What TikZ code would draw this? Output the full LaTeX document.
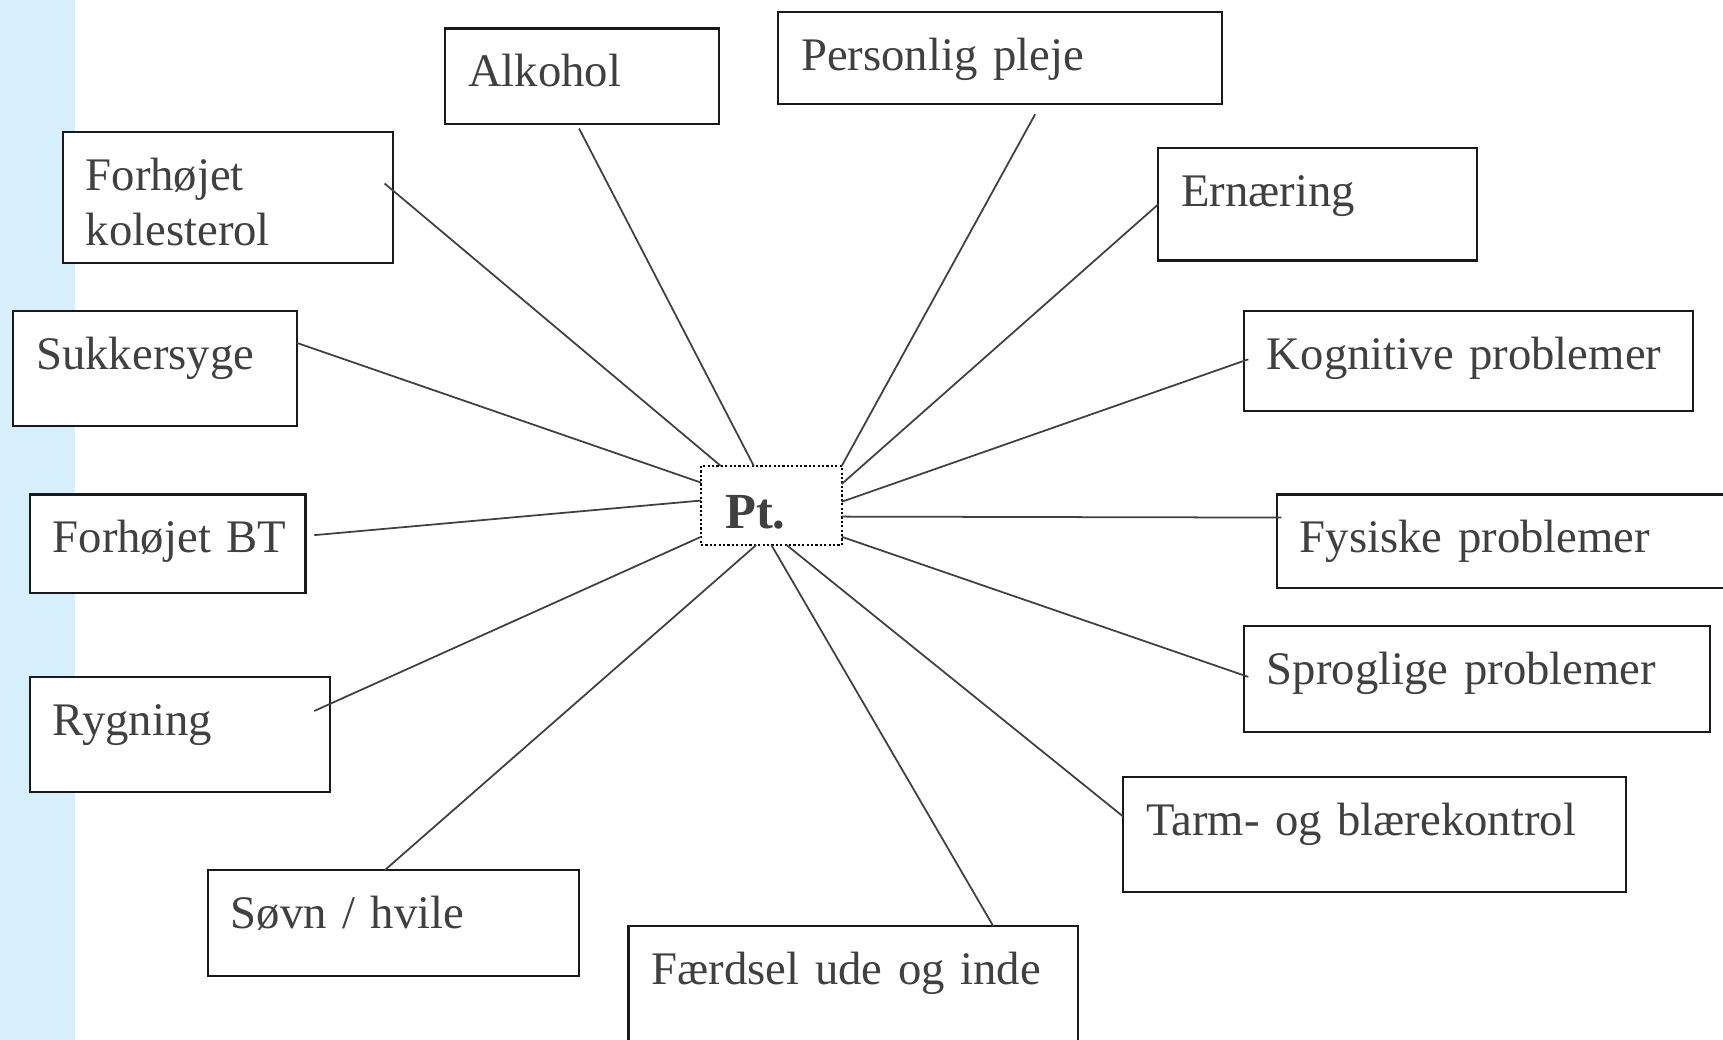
\documentclass[tikz,border=0pt]{standalone}
\usepackage{fontspec}
\setmainfont[WordSpace=0.75]{Liberation Serif}
\usetikzlibrary{calc}
\definecolor{strip}{RGB}{214,239,251}
\definecolor{ink}{RGB}{64,64,64}
\tikzset{
    x=0.5pt, y=-0.5pt,
    faktor/.style={draw=black!90, fill=white, line width=1pt, anchor=north west, align=left,
        inner xsep=10.5pt, inner ysep=0pt, outer sep=0pt, text height=26.5pt,
        text=ink, font=\fontsize{21.25}{25}\selectfont},
    ptbox/.style={faktor, draw=black, dash pattern=on 1pt off 1pt, line width=0.9pt,
        inner xsep=11pt, text width=42pt, text height=28.5pt, text depth=7.5pt,
        font=\fontsize{23}{25}\selectfont\bfseries},
    link/.style={ink, line width=0.8pt},
}
\begin{document}
\begin{tikzpicture}
    \useasboundingbox (0,0) rectangle (1568,946);
    \fill[strip] (0,0) rectangle (68,946);
    % centre
    \node[ptbox] (pt) at (638,424) {Pt.};
    % left side
    \node[faktor, text width=129.5pt, text depth=33pt] (kolesterol) at (57,120) {Forhøjet\\kolesterol};
    \node[faktor, text width=108pt, text depth=26pt] (sukker) at (12,283) {Sukkersyge};
    \node[faktor, text width=104.5pt, text depth=18.5pt] (bt) at (27,450) {Forhøjet~BT};
    \node[faktor, text width=115.5pt, text depth=26pt] (rygning) at (27,616) {Rygning};
    \node[faktor, text width=148pt, text depth=21.5pt] (soevn) at (189,792) {Søvn / hvile};
    % top and bottom
    \node[faktor, text width=103.5pt, text depth=17pt] (alkohol) at (405,26) {Alkohol};
    \node[faktor, text width=181pt, text depth=15.5pt] (pleje) at (708,11) {Personlig pleje};
    \node[faktor, text width=183.5pt, text depth=33.5pt] (faerdsel) at (572,843) {Færdsel ude og inde};
    % right side
    \node[faktor, text width=124pt, text depth=24.5pt] (ernaering) at (1054,135) {Ernæring};
    \node[faktor, text width=183.5pt, text depth=19pt] (kognitiv) at (1132,283) {Kognitive problemer};
    \node[faktor, text width=194pt, text depth=16pt] (fysisk) at (1162,450) {Fysiske problemer};
    \node[faktor, text width=191pt, text depth=21.5pt] (sprog) at (1132,570) {Sproglige problemer};
    \node[faktor, text width=208pt, text depth=26pt] (tarm) at (1022,707) {Tarm- og blærekontrol};
    % connectors
    \draw[link] ($(kolesterol.east)+(-8,-12.5)$) -- (pt.142.8);
    \draw[link] ($(alkohol.south)+(-2.5,4)$) -- (pt.114.6);
    \draw[link] ($(pleje.south)+(32,9)$) -- (pt.north east);
    \draw[link] (ernaering.west) -- (pt.17.2);
    \draw[link] ($(kognitiv.west)+(4,-1.5)$) -- (pt.3.5);
    \draw[link] ($(fysisk.west)+(4,-21.5)$) -- (pt.-9.7);
    \draw[link] ($(sprog.west)+(4,-2)$) -- (pt.-24.2);
    \draw[link] ($(tarm.west)+(0,-16.5)$) -- (pt.-69);
    \draw[link] ($(faerdsel.north)+(127.5,0)$) -- (pt.south);
    \draw[link] ($(soevn.north)+(-8,0)$) -- (pt.-111);
    \draw[link] ($(rygning.east)+(-14,-21.5)$) -- (pt.204.2);
    \draw[link] ($(bt.east)+(8,-8)$) -- (pt.176.5);
    \draw[link] ($(sukker.east)+(0,-23.5)$) -- (pt.162.8);
\end{tikzpicture}
\end{document}
